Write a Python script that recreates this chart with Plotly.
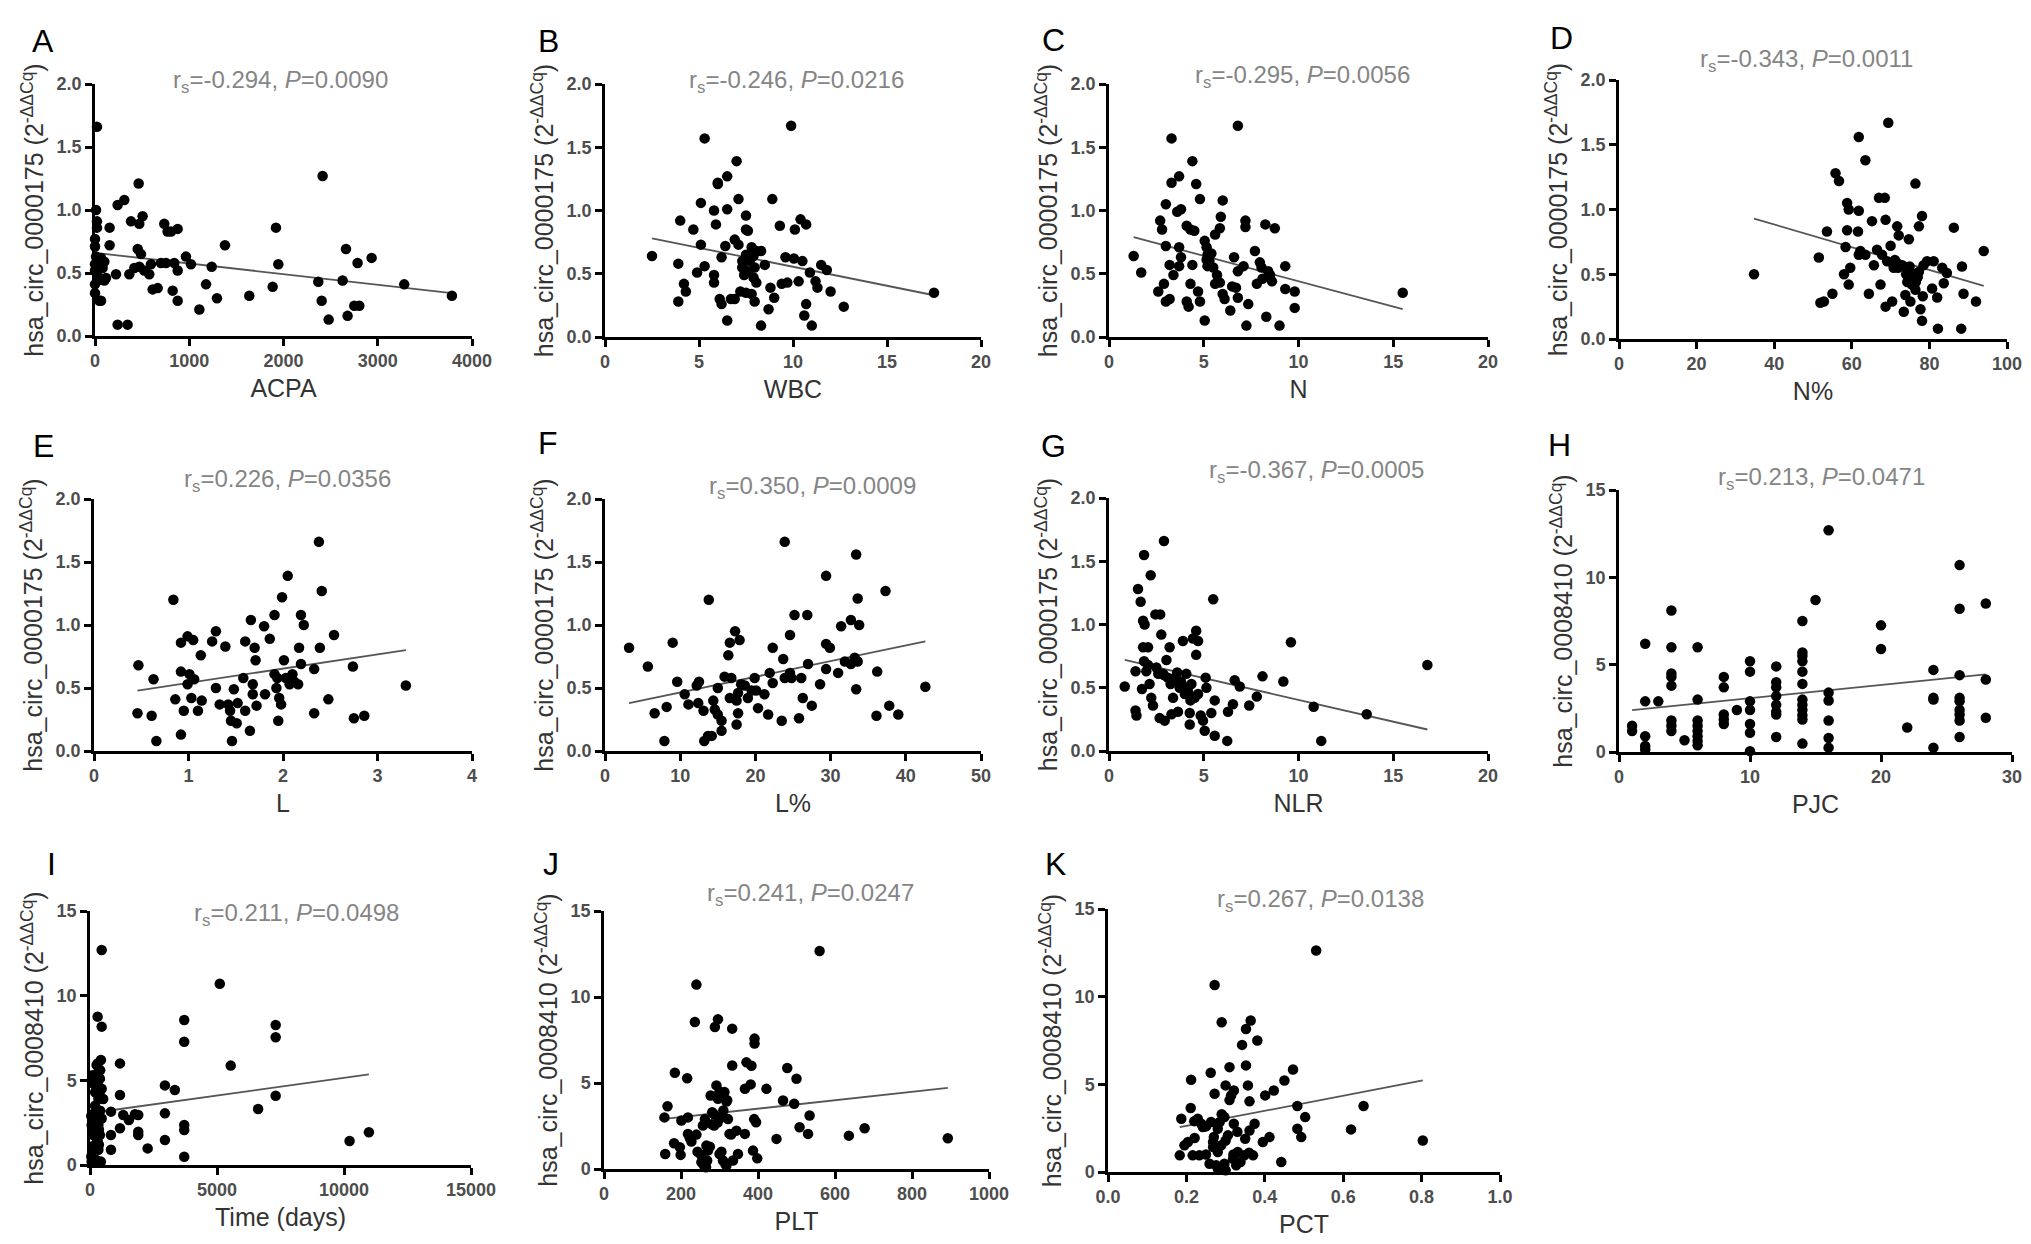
import plotly.graph_objects as go

# ---- data ----
acpa_x = [21, 11, 21, 21, 0, 0, 11, 28, 64, 0, 21, 46, 0, 28, 0, 64, 99, 99, 81, 0, 46, 117,
          155, 155, 223, 240, 311, 240, 346, 382, 364, 463, 505, 470, 453, 488, 417, 470, 523, 576,
          594, 612, 665, 735, 770, 806, 877, 700, 753, 841, 824, 877, 877, 965, 1018, 1107, 1178,
          1238, 1294, 1379, 1637, 1885, 1920, 1945, 2415, 2369, 2405, 2479, 2627, 2663, 2680, 2751,
          2804, 2786, 2935, 3281, 3787]
acpa_y = [1.66, 1.00, 0.91, 0.86, 0.77, 0.71, 0.63, 0.59, 0.62, 0.52, 0.49, 0.46, 0.41, 0.44, 0.34,
          0.28, 0.44, 0.59, 0.54, 0.57, 0.28, 0.46,
          0.86, 0.72, 0.49, 1.04, 1.08, 0.09, 0.09, 0.91, 0.49, 1.21, 0.95, 0.89, 0.69, 0.65, 0.54,
          0.55, 0.52, 0.49, 0.57, 0.37, 0.38, 0.89, 0.83, 0.83, 0.85, 0.58, 0.58, 0.58, 0.36, 0.28,
          0.52, 0.63, 0.57, 0.21, 0.41, 0.55, 0.30, 0.72, 0.32, 0.39, 0.86, 0.57, 1.27, 0.43, 0.28,
          0.13, 0.44, 0.69, 0.16, 0.24, 0.24, 0.58, 0.62, 0.41, 0.32]
acpa_fit = [0.66, 0.34]

wbc_x = [2.5, 4.0, 3.9, 3.9, 4.2, 4.3, 4.7, 5.1, 5.3, 5.1, 4.9, 5.3, 5.8, 6.0, 6.0, 5.9, 5.8, 5.8,
         6.1, 6.2, 6.2, 6.4, 6.5, 6.5, 6.5, 6.7, 6.9, 7.0, 7.1, 6.9, 7.1, 7.2, 7.5, 7.5, 7.6, 7.3,
         7.3, 7.4, 7.5, 7.6, 7.7, 7.8, 7.9, 7.96, 8.05, 7.5, 7.8, 7.96, 8.05, 7.9, 8.3, 8.5, 8.3,
         8.7, 8.8, 8.9, 9.0, 9.3, 9.4, 9.6, 9.7, 9.9, 10.05, 10.1, 10.3, 10.4, 10.5, 10.7, 10.7,
         10.6, 11.0, 10.9, 11.2, 11.3, 11.5, 11.8, 12.0, 12.7, 17.5]
wbc_y = [0.64, 0.92, 0.58, 0.28, 0.42, 0.36, 0.85, 1.06, 1.57, 0.73, 0.51, 0.56, 1.00, 1.22, 1.21,
         0.89, 0.49, 0.43, 0.30, 0.26, 0.63, 0.72, 1.27, 1.01, 0.13, 0.30, 0.30, 1.39, 1.09, 0.77,
         0.73, 0.36, 0.96, 0.85, 0.84, 0.55, 0.60, 0.49, 0.65, 0.52, 0.60, 0.71, 0.64, 0.55, 0.68,
         0.35, 0.34, 0.28, 0.43, 0.47, 0.68, 0.57, 0.09, 0.22, 0.39, 1.09, 0.31, 0.88, 0.42, 0.63,
         0.43, 1.67, 0.62, 0.85, 0.44, 0.93, 0.60, 0.89, 0.26, 0.17, 0.09, 0.51, 0.44, 0.39, 0.57,
         0.53, 0.36, 0.24, 0.35]
wbc_fit = [0.78, 0.33]

n_x = [1.3, 1.7, 2.6, 2.7, 2.8, 2.9, 3.0, 3.2, 3.0, 3.0, 3.2, 3.3, 3.3, 3.7, 3.4, 3.6, 3.8, 3.7,
       3.8, 3.7, 4.1, 4.2, 4.3, 4.1, 4.3, 4.4, 4.4, 4.6, 4.7, 4.8, 4.8, 4.5, 5.05, 5.05, 5.15, 5.2,
       5.3, 5.2, 5.4, 5.5, 5.15, 5.6, 5.6, 5.7, 5.85, 5.85, 5.9, 6.0, 6.0, 6.1, 6.4, 6.5, 6.6, 6.7,
       6.8, 6.8, 6.8, 7.1, 7.2, 7.2, 7.25, 7.35, 7.7, 7.8, 7.96, 8.05, 8.1, 8.25, 8.3, 8.4, 8.5,
       8.6, 8.75, 9.0, 9.3, 9.3, 9.8, 9.8, 15.5]
n_y = [0.64, 0.51, 0.36, 0.92, 0.85, 0.42, 0.28, 0.30, 1.05, 0.72, 0.57, 1.57, 1.22, 1.27, 0.49,
       0.99, 1.01, 0.71, 0.63, 0.56, 0.28, 0.24, 0.42, 0.88, 0.85, 1.39, 0.57, 1.21, 0.36, 0.28,
       1.09, 0.84, 0.13, 0.76, 0.71, 0.65, 0.60, 0.56, 0.66, 0.55, 0.61, 0.81, 0.42, 0.49, 0.43,
       0.86, 0.95, 1.08, 0.34, 0.30, 0.21, 0.40, 0.63, 0.39, 0.31, 1.67, 0.52, 0.56, 0.92, 0.87,
       0.09, 0.26, 0.68, 0.42, 0.59, 0.55, 0.46, 0.89, 0.16, 0.52, 0.49, 0.44, 0.86, 0.09, 0.56,
       0.38, 0.36, 0.23, 0.35]
n_fit = [0.79, 0.22]

npct_x = [34.8, 51.5, 51.9, 52.8, 53.6, 55.0, 55.8, 56.7, 58.0, 58.4, 58.8, 58.8, 59.2, 59.2, 59.6,
          61.8, 61.8, 61.6, 61.8, 62.2, 63.5, 63.5, 64.4, 65.2, 65.7, 66.5, 67.0, 68.5, 67.4, 67.8,
          68.7, 68.7, 69.4, 69.1, 70.0, 70.4, 70.4, 71.1, 71.7, 72.1, 71.9, 73.0, 73.4, 73.8, 74.3,
          74.7, 74.9, 75.1, 75.5, 76.0, 76.4, 76.4, 76.8, 77.3, 77.7, 78.1, 78.1, 78.3, 77.3, 78.5,
          79.4, 80.7, 81.1, 82.0, 82.2, 83.3, 83.7, 84.5, 86.3, 88.2, 88.4, 88.8, 92.0, 94.0,
          75.5, 76.5, 77.0, 74.0, 72.0, 70.8]
npct_y = [0.50, 0.63, 0.28, 0.29, 0.83, 0.35, 1.28, 1.22, 0.50, 0.71, 0.84, 1.05, 1.00, 0.42, 0.55,
          1.56, 0.99, 0.83, 0.65, 0.68, 1.38, 0.65, 0.35, 0.91, 0.57, 0.69, 1.09, 1.09, 0.42, 0.65,
          0.92, 0.25, 1.67, 0.60, 0.72, 0.29, 0.59, 0.61, 0.87, 0.80, 0.55, 0.57, 0.21, 0.34, 0.44,
          0.77, 0.56, 0.29, 0.42, 0.50, 1.20, 0.38, 0.47, 0.87, 0.23, 0.95, 0.14, 0.33, 0.52, 0.57,
          0.60, 0.39, 0.60, 0.32, 0.08, 0.55, 0.43, 0.51, 0.86, 0.08, 0.56, 0.35, 0.29, 0.68,
          0.45, 0.44, 0.48, 0.50, 0.58, 0.55]
npct_fit = [0.93, 0.41]

l_x = [0.47, 0.46, 0.61, 0.63, 0.66, 0.84, 0.86, 0.92, 0.92, 0.92, 0.95, 0.99, 1.01, 0.99, 1.03,
       1.05, 1.06, 1.10, 1.13, 1.14, 1.25, 1.29, 1.29, 1.33, 1.39, 1.42, 1.44, 1.45, 1.46, 1.48,
       1.51, 1.52, 1.58, 1.60, 1.60, 1.65, 1.66, 1.68, 1.68, 1.70, 1.71, 1.72, 1.80, 1.81, 1.86,
       1.91, 1.91, 1.93, 1.94, 1.95, 1.96, 1.98, 1.99, 2.01, 2.05, 2.03, 2.07, 2.10, 2.12, 2.16,
       2.17, 2.19, 2.19, 2.22, 2.33, 2.33, 2.38, 2.39, 2.41, 2.48, 2.54, 2.74, 2.75, 2.86, 3.30]
l_y = [0.68, 0.30, 0.28, 0.57, 0.08, 1.20, 0.41, 0.86, 0.13, 0.63, 0.32, 0.91, 0.61, 0.53, 0.42,
       0.88, 0.57, 0.32, 0.76, 0.40, 0.87, 0.95, 0.50, 0.37, 0.83, 0.37, 0.32, 0.24, 0.08, 0.49,
       0.22, 0.38, 0.58, 0.87, 0.32, 0.16, 1.04, 0.53, 0.45, 0.82, 0.72, 0.36, 0.99, 0.45, 0.89,
       1.08, 0.61, 0.50, 0.58, 0.24, 0.42, 0.37, 1.22, 0.72, 1.39, 0.58, 0.53, 0.61, 0.55, 0.53,
       0.82, 0.69, 1.08, 1.00, 0.30, 0.65, 1.66, 0.82, 1.27, 0.41, 0.92, 0.67, 0.26, 0.28, 0.52]
l_fit = [0.48, 0.80]

lpct_x = [3.2, 5.7, 6.6, 7.9, 8.2, 9.0, 9.6, 10.6, 11.1, 12.2, 12.5, 12.4, 13.1, 13.2, 13.7, 13.8,
          14.2, 14.4, 14.6, 15.0, 15.0, 15.5, 15.5, 15.9, 16.4, 16.6, 16.6, 16.8, 17.3, 17.5, 17.5,
          17.7, 17.7, 17.9, 18.1, 18.6, 19.0, 19.5, 19.9, 20.1, 20.35, 21.2, 21.7, 21.9, 22.3, 22.3,
          23.5, 23.7, 23.9, 24.6, 24.6, 24.8, 25.2, 23.9, 25.8, 26.1, 26.3, 26.9, 27.0, 27.5, 28.6,
          29.4, 29.4, 29.4, 29.9, 31.0, 31.4, 31.9, 32.7, 32.7, 33.2, 33.4, 33.4, 33.6, 33.8, 33.6,
          36.2, 36.1, 37.3, 37.8, 39.0, 42.6]
lpct_y = [0.82, 0.67, 0.30, 0.08, 0.35, 0.86, 0.55, 0.45, 0.37, 0.52, 0.55, 0.38, 0.32, 0.08, 0.12,
          1.20, 0.12, 0.40, 0.33, 0.50, 0.29, 0.24, 0.16, 0.59, 0.76, 0.42, 0.86, 0.58, 0.95, 0.21,
          0.40, 0.30, 0.46, 0.88, 0.53, 0.52, 0.42, 0.48, 0.58, 0.48, 0.34, 0.45, 0.29, 0.62, 0.82,
          0.54, 0.24, 0.73, 0.58, 0.92, 0.62, 0.58, 1.08, 1.66, 0.26, 0.58, 0.42, 1.08, 0.69, 0.36,
          0.53, 1.39, 0.85, 0.65, 0.82, 0.62, 0.99, 0.71, 1.04, 0.69, 0.74, 1.56, 0.49, 1.21, 1.00,
          0.71, 0.63, 0.28, 1.27, 0.36, 0.29, 0.51]
lpct_fit = [0.38, 0.87]

nlr_x = [0.83, 1.4, 1.4, 1.45, 1.53, 1.67, 1.8, 1.85, 1.8, 1.88, 1.85, 1.74, 1.97, 2.06, 2.06, 2.14,
         2.2, 2.23, 2.32, 2.45, 2.5, 2.6, 2.7, 2.67, 2.76, 2.85, 2.9, 2.94, 3.03, 3.1, 3.2, 3.25,
         3.3, 3.38, 3.47, 3.64, 3.73, 3.8, 3.9, 4.0, 4.08, 4.17, 4.26, 4.26, 4.35, 4.43, 4.52, 4.6,
         4.6, 4.7, 4.7, 4.84, 4.96, 5.05, 5.1, 5.14, 5.4, 5.5, 5.58, 5.58, 6.24, 6.28, 6.54, 6.63,
         6.9, 7.4, 7.8, 8.1, 9.2, 9.6, 10.8, 11.2, 13.6, 16.8,
         3.5, 4.1, 4.3, 2.9, 3.6]
nlr_y = [0.51, 0.63, 0.32, 0.28, 1.28, 1.18, 0.82, 1.55, 1.03, 1.00, 0.71, 0.49, 0.63, 0.82, 0.68,
         0.53, 1.39, 0.42, 0.36, 1.08, 0.66, 0.61, 1.08, 0.26, 0.92, 0.61, 1.66, 0.24, 0.72, 0.58,
         0.82, 0.53, 0.29, 0.42, 0.58, 0.31, 0.50, 0.55, 0.87, 0.45, 0.61, 0.47, 0.21, 0.30, 0.53,
         0.89, 0.42, 0.76, 0.95, 0.87, 0.45, 0.28, 0.24, 0.16, 0.58, 0.50, 0.30, 1.20, 0.40, 0.12,
         0.08, 0.31, 0.37, 0.56, 0.51, 0.36, 0.43, 0.59, 0.55, 0.86, 0.35, 0.08, 0.29, 0.68,
         0.55, 0.50, 0.40, 0.60, 0.62]
nlr_fit = [0.72, 0.17]

pjc_x = [1, 1,
         2, 2, 2, 2, 2,
         3,
         4, 4, 4, 4, 4, 4, 4, 4,
         5,
         6, 6, 6, 6, 6, 6, 6, 6,
         8, 8, 8, 8, 8,
         9,
         10, 10, 10, 10, 10, 10, 10,
         12, 12, 12, 12, 12, 12, 12, 12,
         14, 14, 14, 14, 14, 14, 14, 14, 14, 14, 14, 14,
         15,
         16, 16, 16, 16, 16, 16,
         20, 20,
         22,
         24, 24, 24, 24,
         26, 26, 26, 26, 26, 26, 26, 26, 26,
         28, 28, 28]
pjc_y = [1.5, 1.2,
         6.2, 2.9, 0.9, 0.35, 0.15,
         2.9,
         8.1, 6.0, 4.5, 4.3, 3.8, 1.8, 1.5, 1.2,
         0.67,
         6.0, 3.0, 1.8, 1.5, 1.2, 0.9, 0.63, 0.38,
         4.3, 3.7, 2.15, 1.86, 1.6,
         2.4,
         5.2, 4.6, 2.9, 2.4, 1.6, 1.1, 0.05,
         4.9, 4.0, 3.7, 3.2, 2.7, 2.3, 2.15, 0.86,
         7.5, 5.7, 5.5, 5.2, 4.6, 3.9, 3.0, 2.7, 2.4, 2.1, 1.86, 0.48,
         8.7,
         12.7, 3.4, 2.95, 1.8, 0.8, 0.25,
         7.25, 5.9,
         1.4,
         4.7, 3.1, 3.0, 0.25,
         10.7, 8.2, 4.4, 3.1, 2.9, 2.4, 2.15, 1.8, 0.86,
         8.5, 4.15, 1.96]
pjc_fit = [2.4, 4.44]

time_x = [460, 300, 460, 430, 260, 330, 390, 300, 460, 200, 330, 390, 130, 260, 65, 330, 130, 390,
          130, 330, 65, 430, 300, 460, 520,
          1180, 1180, 1180, 825, 825, 825, 1310, 1530, 1770, 1900, 1900, 1900, 2270, 2950, 2950,
          2950, 3340, 3710, 3710, 3710, 3710, 3710, 5110, 5540, 6620, 7310, 7310, 7310, 10220, 10980,
          100, 200, 150, 250, 350, 100, 50, 200, 150, 250, 350, 100, 50, 250, 400, 200, 300, 400,
          150, 350]
time_y = [12.7, 8.76, 8.17, 6.2, 5.9, 5.5, 5.1, 4.7, 4.5, 4.3, 3.9, 4.1, 2.95, 2.75, 2.36, 2.36,
          1.77, 1.77, 0.98, 0.9, 0.2, 0.2, 1.4, 2.75, 3.9,
          6.0, 4.13, 2.17, 3.15, 1.77, 0.9, 2.95, 2.66, 3.0, 2.95, 1.97, 1.77, 0.98, 4.7, 3.05,
          1.48, 4.43, 8.56, 7.28, 2.36, 2.07, 0.49, 10.7, 5.87, 3.31, 8.27, 7.54, 4.09, 1.42, 1.93,
          5.3, 5.0, 4.8, 4.4, 4.6, 3.0, 2.9, 2.5, 2.0, 1.6, 1.2, 1.1, 0.5, 0.3, 3.2, 3.5, 6.0, 5.6,
          1.9, 2.1]
time_fit = [3.07, 5.35]

plt_x = [159, 157, 165, 184, 182, 197, 199, 201, 216, 218, 218, 223, 227, 236, 240, 243, 252, 253,
         257, 260, 262, 266, 268, 270, 277, 281, 286, 288, 292, 296, 296, 300, 305, 309, 313, 318,
         318, 322, 326, 333, 333, 335, 344, 348, 366, 366, 370, 383, 381, 391, 391, 387, 395, 398,
         422, 448, 465, 476, 494, 500, 508, 530, 534, 560, 636, 677, 893,
         300, 310, 320, 285, 295, 275, 305, 265, 315, 330, 390, 240, 280, 310]
plt_y = [0.87, 3.0, 3.65, 5.6, 1.5, 1.26, 0.82, 2.82, 5.28, 3.0, 2.04, 1.79, 1.6, 8.55, 10.72, 1.0,
         0.82, 0.39, 2.53, 0.2, 2.9, 1.36, 0.49, 1.07, 4.27, 3.3, 2.53, 8.26, 4.86, 8.7, 4.08, 0.87,
         3.0, 0.49, 4.47, 0.2, 3.92, 2.9, 2.04, 8.16, 6.02, 0.49, 2.23, 0.87, 2.04, 4.66, 6.2, 6.0,
         4.92, 7.58, 7.29, 1.07, 2.72, 0.62, 4.66, 1.75, 3.98, 5.87, 3.79, 5.25, 2.43, 2.04, 3.11,
         12.67, 1.94, 2.37, 1.79,
         4.5, 4.2, 4.0, 3.2, 2.7, 1.3, 1.0, 0.1, 0.3, 2.0, 2.9, 2.0, 2.6, 3.4]
plt_fit = [2.91, 4.72]

pct_x = [0.183, 0.187, 0.195, 0.204, 0.211, 0.212, 0.216, 0.221, 0.229, 0.233, 0.238, 0.242, 0.262,
         0.259, 0.263, 0.268, 0.268, 0.272, 0.272, 0.276, 0.28, 0.28, 0.285, 0.289, 0.29, 0.297,
         0.297, 0.30, 0.306, 0.31, 0.314, 0.319, 0.321, 0.321, 0.327, 0.331, 0.338, 0.342, 0.348,
         0.352, 0.352, 0.357, 0.361, 0.361, 0.364, 0.37, 0.374, 0.381, 0.395, 0.401, 0.412, 0.423,
         0.442, 0.45, 0.472, 0.483, 0.483, 0.493, 0.503, 0.531, 0.62, 0.652, 0.803,
         0.22, 0.25, 0.27, 0.29, 0.30, 0.31, 0.32, 0.33, 0.35, 0.36, 0.28, 0.30, 0.25]
pct_y = [0.95, 3.04, 1.52, 1.71, 3.65, 5.26, 0.95, 1.94, 3.04, 0.95, 2.75, 2.56, 5.66, 0.47, 2.85,
         1.71, 1.42, 10.67, 4.46, 0.38, 1.14, 2.47, 2.85, 1.52, 8.54, 0.47, 3.13, 4.94, 2.09, 5.98,
         4.37, 0.76, 4.65, 2.75, 0.38, 1.14, 0.57, 7.25, 0.95, 8.16, 6.08, 4.94, 4.03, 2.37, 8.64,
         0.95, 2.75, 7.5, 1.71, 4.37, 1.99, 4.65, 0.57, 5.22, 5.85, 3.76, 2.47, 1.99, 3.13, 12.63,
         2.43, 3.76, 1.80,
         2.9, 2.6, 2.0, 3.3, 1.8, 4.1, 1.0, 2.3, 1.9, 1.1, 0.2, 0.1, 1.0]
pct_fit = [2.56, 5.22]

letters = ["A", "B", "C", "D", "E", "F", "G", "H", "I", "J", "K"]
x_labels = ["ACPA", "WBC", "N", "N%", "L", "L%", "NLR", "PJC", "Time (days)", "PLT", "PCT"]
r_values = ["-0.294", "-0.246", "-0.295", "-0.343", "0.226", "0.350", "-0.367", "0.213", "0.211",
            "0.241", "0.267"]
p_values = ["0.0090", "0.0216", "0.0056", "0.0011", "0.0356", "0.0009", "0.0005", "0.0471",
            "0.0498", "0.0247", "0.0138"]
x_ranges = [[0, 4000], [0, 20], [0, 20], [0, 100], [0, 4], [0, 50], [0, 20], [0, 30], [0, 15000],
            [0, 1000], [0, 1.0]]
x_dticks = [1000, 5, 5, 20, 1, 10, 5, 10, 5000, 200, 0.2]
circ_ids = ["0000175"] * 7 + ["0008410"] * 4

xs = [acpa_x, wbc_x, n_x, npct_x, l_x, lpct_x, nlr_x, pjc_x, time_x, plt_x, pct_x]
ys = [acpa_y, wbc_y, n_y, npct_y, l_y, lpct_y, nlr_y, pjc_y, time_y, plt_y, pct_y]
fits = [acpa_fit, wbc_fit, n_fit, npct_fit, l_fit, lpct_fit, nlr_fit, pjc_fit, time_fit, plt_fit,
        pct_fit]

# ---- layout in page pixels ----
W, H = 2031, 1244
# plot boxes: left, right, top, bottom
boxes = [(87, 464, 76, 328), (597, 973, 76, 329), (1101, 1480, 76, 329), (1611, 1999, 72, 331),
         (86, 464, 491, 743), (597, 973, 491, 743), (1101, 1480, 490, 743), (1611, 2004, 482, 744),
         (82, 463, 903, 1157), (596, 981, 903, 1161), (1100, 1492, 901, 1164)]
stat_pos = [(272, 74), (788, 74), (1294, 68), (1798, 53), (279, 472), (804, 480), (1308, 463),
            (1813, 470), (288, 906), (802, 886), (1312, 892)]
letter_pos = [(35, 33), (540, 33), (1045, 32), (1553, 30), (35, 438), (540, 435), (1045, 438),
              (1551, 437), (43, 856), (543, 856), (1047, 856)]

FONT = "Liberation Sans, Arial, sans-serif"
tick_font = dict(family=FONT, size=18, color="#4d4d4d", weight="bold")
xtitle_font = dict(family=FONT, size=25, color="#333333")
ytitle_font = dict(family=FONT, size=25, color="#333333")

fig = go.Figure()
layout = dict(width=W, height=H, template="none", paper_bgcolor="white", plot_bgcolor="white",
              margin=dict(l=0, r=0, t=0, b=0), showlegend=False, annotations=[])

for i in range(len(letters)):
    n = "" if i == 0 else str(i + 1)
    xa, ya = "x" + n, "y" + n
    l, r, t, b = boxes[i]
    x0, x1 = min(xs[i]), max(xs[i])
    fig.add_trace(go.Scatter(x=[x0, x1], y=fits[i], mode="lines", xaxis=xa, yaxis=ya,
                             line=dict(color="#555555", width=1.8), hoverinfo="skip"))
    fig.add_trace(go.Scatter(x=xs[i], y=ys[i], mode="markers", xaxis=xa, yaxis=ya, cliponaxis=False,
                             marker=dict(size=10.5, color="black")))

    axis_common = dict(showline=True, linecolor="black", linewidth=2.5, ticks="outside", ticklen=7,
                       tickwidth=2.5, tickcolor="black", showgrid=False, zeroline=False,
                       tickfont=tick_font, automargin=False, tick0=0)
    small_y = i < 7
    layout["xaxis" + n] = dict(axis_common, domain=[l / W, r / W], anchor=ya, range=x_ranges[i],
                               dtick=x_dticks[i], tickformat=".1f" if x_dticks[i] < 1 else "d",
                               title=dict(text=x_labels[i], font=xtitle_font, standoff=10))
    layout["yaxis" + n] = dict(axis_common, domain=[1 - b / H, 1 - t / H], anchor=xa,
                               range=[0, 2] if small_y else [0, 15], dtick=0.5 if small_y else 5,
                               tickformat=".1f" if small_y else "d",
                               title=dict(text="hsa_circ_" + circ_ids[i] + " (2<sup>-ΔΔCq</sup>)",
                                          font=ytitle_font, standoff=6))

    sx, sy = stat_pos[i]
    layout["annotations"].append(dict(
        text="r<sub>s</sub>=" + r_values[i] + ", <i>P</i>=" + p_values[i],
        x=sx / W, y=1 - sy / H, xref="paper", yref="paper", xanchor="center", yanchor="middle",
        showarrow=False, font=dict(family=FONT, size=24, color="#858585")))
    lx, ly = letter_pos[i]
    layout["annotations"].append(dict(
        text=letters[i], x=lx / W, y=1 - ly / H, xref="paper", yref="paper", xanchor="center",
        yanchor="middle", showarrow=False, font=dict(family=FONT, size=32, color="black")))

fig.update_layout(layout)
fig.write_html("out.html")
